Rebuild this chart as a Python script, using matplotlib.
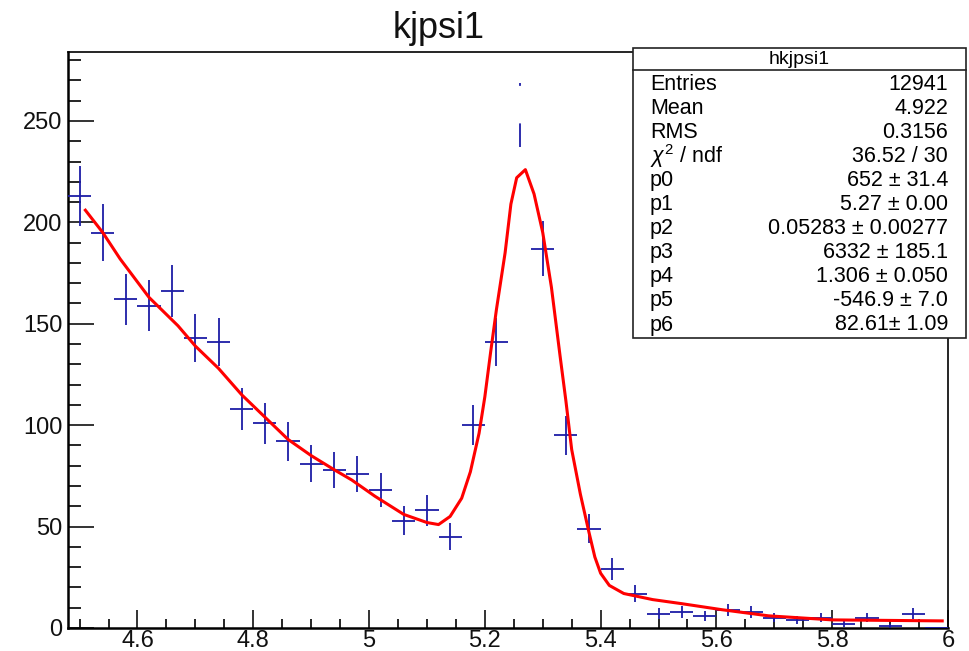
import numpy as np
import matplotlib
matplotlib.use("Agg")
import matplotlib.pyplot as plt
from matplotlib.patches import Rectangle
from matplotlib.lines import Line2D
from matplotlib.ticker import MultipleLocator

plt.rcParams['font.family'] = ['Liberation Sans', 'DejaVu Sans']
plt.rcParams['mathtext.fontset'] = 'custom'
plt.rcParams['mathtext.rm'] = 'Liberation Sans'
plt.rcParams['mathtext.it'] = 'Liberation Sans:italic'
plt.rcParams['lines.scale_dashes'] = False

# ---------------------------------------------------------------------------
# data (bin centres, bin width 0.04)
# ---------------------------------------------------------------------------
bin_centers = [4.50, 4.54, 4.58, 4.62, 4.66, 4.70, 4.74, 4.78, 4.82, 4.86,
               4.90, 4.94, 4.98, 5.02, 5.06, 5.10, 5.14, 5.18, 5.22, 5.26,
               5.30, 5.34, 5.38, 5.42, 5.46, 5.50, 5.54, 5.58, 5.62, 5.66,
               5.70, 5.74, 5.78, 5.82, 5.86, 5.90, 5.94, 5.98]
counts = [213, 195, 162, 159, 166, 143, 141, 108, 101, 92,
          81, 78, 76, 68, 53, 58, 45, 100, 141, 253,
          187, 95, 49, 29, 17, 7, 8, 6, 9, 8,
          5, 4, 5, 2, 5, 1, 7, 0]
bin_width = 0.04

# fit curve
fit_x = [4.51, 4.54, 4.57, 4.62, 4.67, 4.70, 4.74, 4.78, 4.82, 4.86,
         4.90, 4.94, 4.97, 5.01, 5.06, 5.10, 5.12, 5.14, 5.16, 5.175,
         5.19, 5.20, 5.21, 5.22, 5.235, 5.245, 5.255, 5.27, 5.285, 5.30,
         5.315, 5.33, 5.34, 5.35, 5.365, 5.38, 5.39, 5.40, 5.415, 5.44,
         5.49, 5.54, 5.61, 5.69, 5.80, 5.99]
fit_y = [206, 195, 182, 163, 149, 139, 128, 115, 104, 93,
         85, 78, 73, 65, 56, 52, 51, 55, 64, 77,
         96, 114, 136, 157, 185, 209, 222, 226, 214, 195,
         168, 134, 112, 88, 66, 47, 35, 27, 21, 17,
         14, 12, 9, 6, 4, 3.5]

# stats box
stat_title = "hkjpsi1"
stat_labels = ["Entries", "Mean", "RMS", r"$\chi^{2}$ / ndf",
               "p0", "p1", "p2", "p3", "p4", "p5", "p6"]
stat_values = ["12941", "4.922", "0.3156", "36.52 / 30",
               "652 \u00b1 31.4", "5.27 \u00b1 0.00", "0.05283 \u00b1 0.00277",
               "6332 \u00b1 185.1", "1.306 \u00b1 0.050", "-546.9 \u00b1 7.0",
               "82.61\u00b1 1.09"]

title = "kjpsi1"

# ---------------------------------------------------------------------------
# figure
# ---------------------------------------------------------------------------
W, H = 970, 651
fig = plt.figure(figsize=(W / 100, H / 100), dpi=100)
ax = fig.add_axes([68 / W, 1 - 628 / H, (948 - 68) / W, (628 - 52) / H])

blue = '#1c1ca6'
x = np.array(bin_centers)
y = np.array(counts, dtype=float)
err = np.sqrt(y)

peak = int(np.argmax(y))
normal = np.arange(len(x)) != peak

ax.errorbar(x[normal], y[normal], yerr=err[normal], xerr=bin_width / 2,
            fmt='none', ecolor=blue, elinewidth=1.3, capsize=0, zorder=3)
# peak bin only shows a broken vertical bar in the original
ax.vlines(x[peak], y[peak] - err[peak], y[peak] + err[peak], colors=blue,
          linewidth=1.3, linestyles=[(0, (17, 27, 3.5, 200))], zorder=3)

ax.plot(fit_x, fit_y, color='#ff0000', linewidth=2.2, zorder=4)

ax.set_xlim(4.48, 6.0)
ax.set_ylim(0, 284)

ax.xaxis.set_major_locator(MultipleLocator(0.2))
ax.xaxis.set_minor_locator(MultipleLocator(0.05))
ax.yaxis.set_major_locator(MultipleLocator(50))
ax.yaxis.set_minor_locator(MultipleLocator(10))
ax.xaxis.set_major_formatter(plt.FuncFormatter(lambda v, p: f"{v:g}"))

ax.tick_params(axis='x', which='major', direction='in', length=13, width=1.2,
               labelsize=17, pad=1.5, colors='#111111', top=False)
ax.tick_params(axis='x', which='minor', direction='in', length=6.5, width=1.2,
               top=False)
ax.tick_params(axis='y', which='major', direction='in', length=19, width=1.2,
               labelsize=17, pad=4, colors='#111111', right=False)
ax.tick_params(axis='y', which='minor', direction='in', length=9.5, width=1.2,
               right=False)

for side in ['left', 'bottom']:
    ax.spines[side].set_linewidth(1.8)
for side in ['top', 'right']:
    ax.spines[side].set_linewidth(1.2)

fig.text(439 / W, 1 - 28 / H, title, fontsize=26, ha='center', va='center',
         color='#111111')

# stats box in figure pixels
bx0, bx1, by0, by1 = 633, 966, 48, 338
fig.patches.append(Rectangle((bx0 / W, 1 - by1 / H), (bx1 - bx0) / W,
                             (by1 - by0) / H, transform=fig.transFigure,
                             facecolor='white', edgecolor='#222222',
                             linewidth=1.2, zorder=10))
fig.lines.append(Line2D([bx0 / W, bx1 / W], [1 - 70 / H, 1 - 70 / H],
                        transform=fig.transFigure, color='#222222',
                        linewidth=1.2, zorder=11))
fig.text((bx0 + bx1) / 2 / W, 1 - 59 / H, stat_title, fontsize=14,
         ha='center', va='center', zorder=12)
row0, row_step = 84, 24.1
for i, (lab, val) in enumerate(zip(stat_labels, stat_values)):
    yy = 1 - (row0 + i * row_step) / H
    fig.text(650 / W, yy, lab, fontsize=15.5, ha='left', va='center',
             zorder=12)
    fig.text(948 / W, yy, val, fontsize=15.5, ha='right', va='center',
             zorder=12)

fig.savefig('out.png', dpi=100)
